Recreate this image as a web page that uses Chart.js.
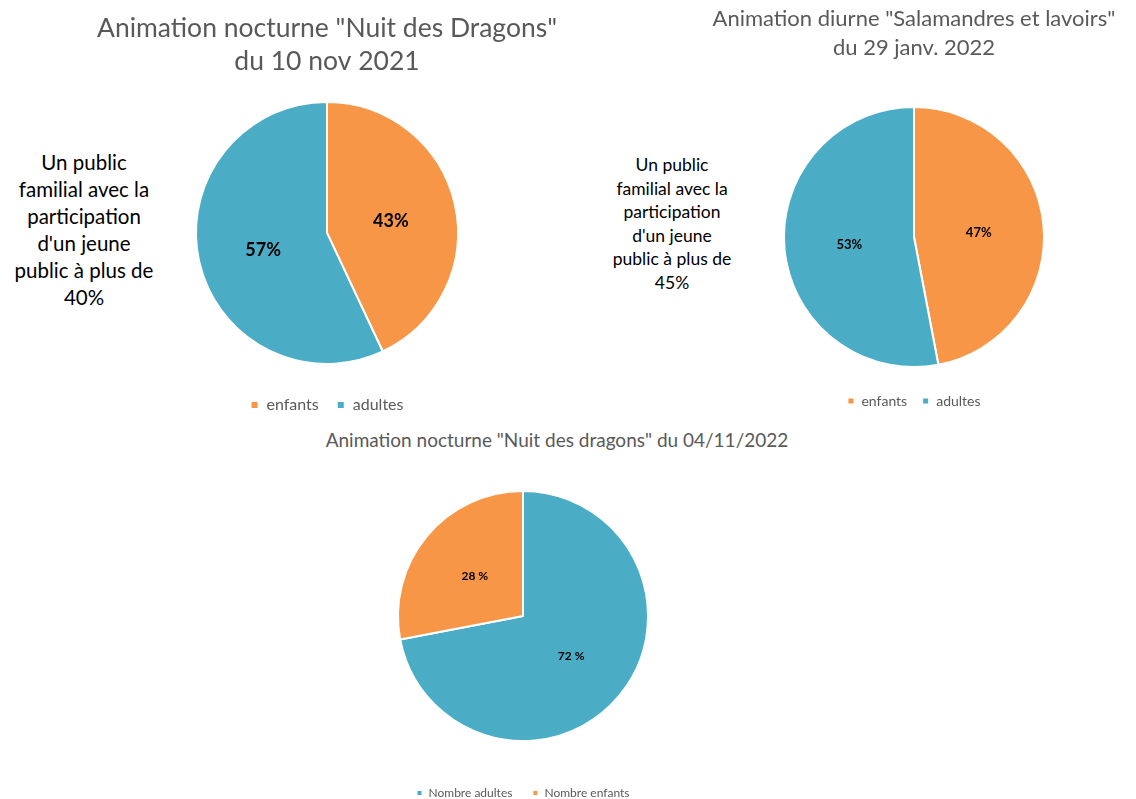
<!DOCTYPE html>
<html lang="fr">
<head>
<meta charset="UTF-8">
<title>Public des animations</title>
<script src="https://cdn.jsdelivr.net/npm/chart.js"></script>
<style>
  body { margin: 0; background: #fff; width: 1136px; height: 799px; overflow: hidden; position: relative; font-family: Lato, sans-serif; }
  canvas { position: absolute; }
  .note { position: absolute; text-align: center; color: #000; white-space: nowrap; }
  .titre { position: absolute; text-align: center; color: #595959; white-space: nowrap; }
</style>
</head>
<body>

<div class="note" style="left:0;top:149px;width:168px;font-size:20.5px;line-height:27px;">Un public<br>familial avec la<br>participation<br>d'un jeune<br>public à plus de<br>40%</div>
<div class="note" style="left:597px;top:153px;width:150px;font-size:17.5px;line-height:23.6px;">Un public<br>familial avec la<br>participation<br>d'un jeune<br>public à plus de<br>45%</div>
<div class="titre" style="left:257px;top:428px;width:600px;font-size:19px;line-height:24px;">Animation nocturne "Nuit des dragons" du 04/11/2022</div>

<canvas id="c1" width="460" height="423" style="left:97px;top:0;"></canvas>
<canvas id="c2" width="436" height="418" style="left:696px;top:0;"></canvas>
<canvas id="c3" width="500" height="379" style="left:273px;top:430px;"></canvas>

<script>
  // données
  const categories1 = ['enfants', 'adultes'];
  const values1 = [43, 57];
  const categories2 = ['enfants', 'adultes'];
  const values2 = [47, 53];
  const categories3 = ['Nombre adultes', 'Nombre enfants'];
  const values3 = [72, 28];

  const ORANGE = '#F79646';
  const BLEU = '#4BACC6';
  const GRIS = '#595959';
  const FONT = 'Lato, sans-serif';

  // étiquettes de pourcentage au milieu des parts
  const pctLabels = {
    id: 'pctLabels',
    afterDatasetsDraw(chart, args, opts) {
      const ctx = chart.ctx;
      const meta = chart.getDatasetMeta(0);
      const data = chart.data.datasets[0].data;
      ctx.save();
      ctx.font = 'bold ' + opts.size + 'px ' + FONT;
      ctx.fillStyle = '#000';
      ctx.textAlign = 'center';
      ctx.textBaseline = 'middle';
      meta.data.forEach((arc, i) => {
        const p = arc.tooltipPosition();
        ctx.fillText(data[i] + opts.suffix, p.x, p.y + opts.dy);
      });
      ctx.restore();
    }
  };

  function camembert(id, labels, values, colors, cfg) {
    new Chart(document.getElementById(id), {
      type: 'pie',
      data: {
        labels: labels,
        datasets: [{
          data: values,
          backgroundColor: colors,
          borderColor: '#fff',
          borderWidth: 2,
          radius: cfg.radius
        }]
      },
      options: {
        responsive: false,
        animation: false,
        layout: { padding: { top: cfg.padTop || 0 } },
        plugins: {
          title: cfg.title ? {
            display: true,
            text: cfg.title,
            color: GRIS,
            font: { family: FONT, size: cfg.titleSize, weight: 'normal', lineHeight: cfg.titleLH },
            padding: cfg.titlePad
          } : { display: false },
          legend: {
            position: 'bottom',
            labels: {
              boxWidth: cfg.box, boxHeight: cfg.box,
              color: GRIS,
              padding: cfg.legPad,
              font: { family: FONT, size: cfg.legSize }
            }
          },
          tooltip: { enabled: false },
          pctLabels: { size: cfg.pctSize, suffix: cfg.suffix, dy: cfg.pctDy || 0 }
        }
      },
      plugins: [pctLabels]
    });
  }

  camembert('c1', categories1, values1, [ORANGE, BLEU], {
    radius: 131,
    title: ['Animation nocturne "Nuit des Dragons"', 'du 10 nov 2021'],
    titleSize: 26.5, titleLH: 1.28, titlePad: { top: 11, bottom: 8 },
    box: 8, legPad: 18, legSize: 16, pctSize: 18, suffix: '%', pctDy: 3
  });

  camembert('c2', categories2, values2, [ORANGE, BLEU], {
    radius: 130,
    title: ['Animation diurne "Salamandres et lavoirs"', 'du 29 janv. 2022'],
    titleSize: 22, titleLH: 1.32, titlePad: { top: 4, bottom: 33 },
    box: 7, legPad: 15, legSize: 14, pctSize: 13, suffix: '%', pctDy: 2
  });

  camembert('c3', categories3, values3, [BLEU, ORANGE], {
    radius: 125, padTop: 35,
    box: 6, legPad: 20, legSize: 12, pctSize: 12, suffix: ' %'
  });
</script>
</body>
</html>
